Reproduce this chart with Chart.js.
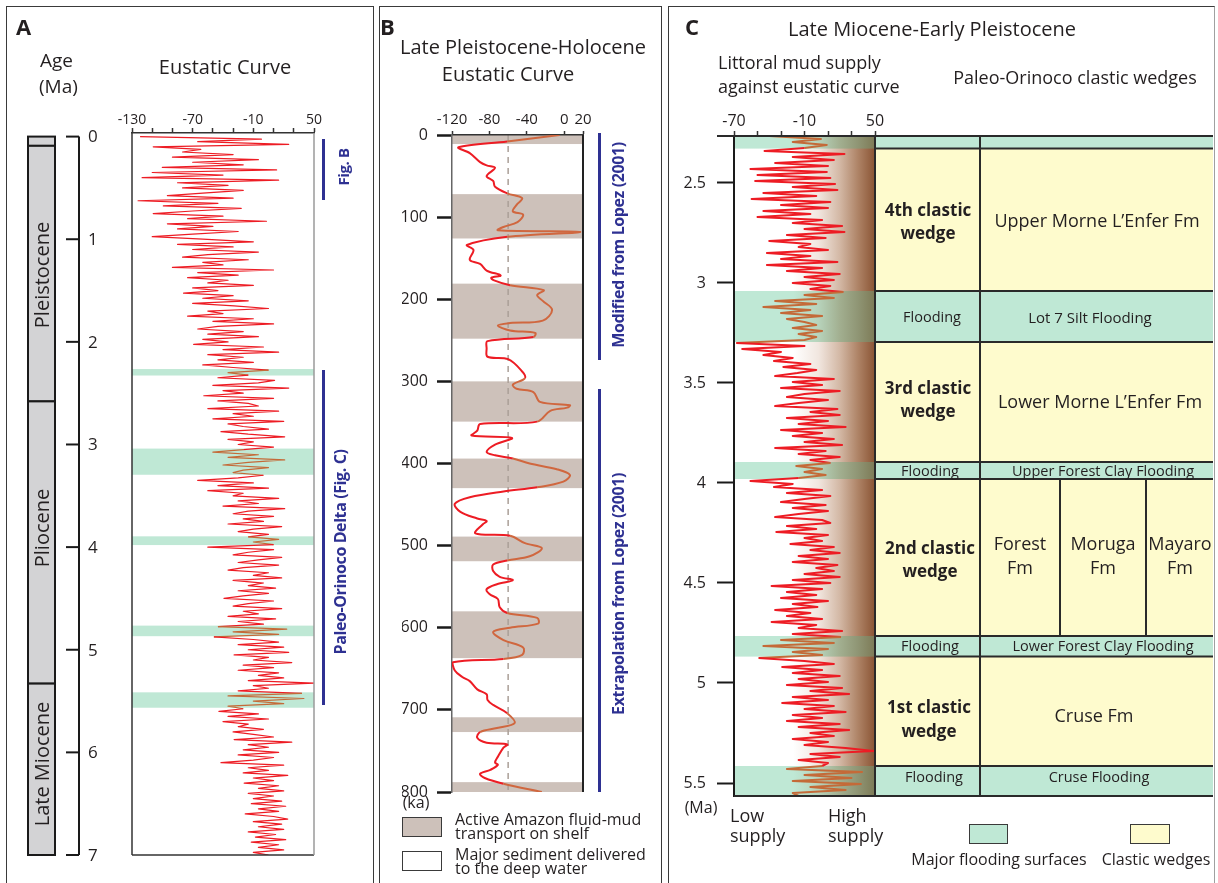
<!DOCTYPE html>
<html lang="en">
<head>
<meta charset="utf-8">
<title>Eustatic curves and Paleo-Orinoco clastic wedges</title>
<script src="https://cdn.jsdelivr.net/npm/chart.js@4.4.1/dist/chart.umd.min.js"></script>
<style>
  html, body { margin: 0; padding: 0; background: #fff; }
  #fig { position: relative; width: 1218px; height: 883px; overflow: hidden; font-family: 'Open Sans', sans-serif; color: #231f20; }
  #fig canvas { position: absolute; left: 0; top: 0; }
  .frame { position: absolute; box-sizing: border-box; border: 1.5px solid #3a3a3a; border-bottom: none; height: 900px; top: 6px; }
  .t { position: absolute; white-space: nowrap; line-height: 1; }
  .c { transform: translate(-50%, -50%); }
  .l { transform: translateY(-50%); }
  .v { transform: translate(-50%, -50%) rotate(-90deg); }
  .b { font-weight: 700; }
  .blue { color: #2e3192; font-weight: 700; letter-spacing: -0.4px; }
  .bar { position: absolute; width: 3px; background: #2e3192; }
  .key { position: absolute; box-sizing: border-box; border: 1.5px solid #3a3a3a; }
</style>
</head>
<body>
<div id="fig">
  <div class="frame" style="left:6px;width:368px"></div>
  <div class="frame" style="left:379px;width:283px"></div>
  <div class="frame" style="left:668px;width:547px;border-right-color:#a0a0a0"></div>

  <canvas id="chartA" width="1218" height="883"></canvas>
  <canvas id="chartB" width="1218" height="883"></canvas>
  <canvas id="chartC" width="1218" height="883"></canvas>

  <!-- Panel A -->
  <div class="t l b" style="left:16px;top:26px;font-size:22px">A</div>
  <div class="t l" style="left:40px;top:60px;font-size:19px">Age</div>
  <div class="t l" style="left:39px;top:86px;font-size:19px">(Ma)</div>
  <div class="t c" style="left:225px;top:67px;font-size:20px">Eustatic Curve</div>
  <div class="t v" style="left:42px;top:275px;font-size:20px">Pleistocene</div>
  <div class="t v" style="left:42px;top:528px;font-size:20px">Pliocene</div>
  <div class="t v" style="left:42px;top:764px;font-size:20px">Late Miocene</div>
  <div class="bar" style="left:322px;top:139px;height:61px"></div>
  <div class="t v blue" style="left:343px;top:167px;font-size:15px">Fig. B</div>
  <div class="bar" style="left:322px;top:370px;height:335px"></div>
  <div class="t v blue" style="left:340px;top:552px;font-size:16px">Paleo-Orinoco Delta (Fig. C)</div>

  <!-- Panel B -->
  <div class="t l b" style="left:380px;top:26px;font-size:22px">B</div>
  <div class="t c" style="left:523px;top:47px;font-size:20px">Late Pleistocene-Holocene</div>
  <div class="t c" style="left:508px;top:74px;font-size:20px">Eustatic Curve</div>
  <div class="t c" style="left:416px;top:802px;font-size:16px">(ka)</div>
  <div class="bar" style="left:598px;top:133px;height:227px"></div>
  <div class="t v blue" style="left:618px;top:245px;font-size:16px">Modified from Lopez (2001)</div>
  <div class="bar" style="left:598px;top:389px;height:403px"></div>
  <div class="t v blue" style="left:618px;top:594px;font-size:16px">Extrapolation from Lopez (2001)</div>
  <div class="key" style="left:402px;top:817px;width:40px;height:20px;background:#cdc1ba"></div>
  <div class="t l" style="left:455px;top:819px;font-size:16px">Active Amazon fluid-mud</div>
  <div class="t l" style="left:455px;top:833px;font-size:16px">transport on shelf</div>
  <div class="key" style="left:402px;top:851px;width:40px;height:20px;background:#fff"></div>
  <div class="t l" style="left:455px;top:854px;font-size:16px">Major sediment delivered</div>
  <div class="t l" style="left:455px;top:868px;font-size:16px">to the deep water</div>

  <!-- Panel C -->
  <div class="t l b" style="left:685px;top:26px;font-size:22px">C</div>
  <div class="t c" style="left:932px;top:29px;font-size:20px">Late Miocene-Early Pleistocene</div>
  <div class="t l" style="left:718px;top:62px;font-size:18px">Littoral mud supply</div>
  <div class="t l" style="left:718px;top:86px;font-size:18px">against eustatic curve</div>
  <div class="t c" style="left:1075px;top:77px;font-size:18px">Paleo-Orinoco clastic wedges</div>

  <div class="t c b" style="left:928px;top:209px;font-size:17px">4th clastic</div>
  <div class="t c b" style="left:928px;top:232px;font-size:17px">wedge</div>
  <div class="t c" style="left:1097px;top:220px;font-size:18px">Upper Morne L’Enfer Fm</div>
  <div class="t c" style="left:932px;top:317px;font-size:14.5px">Flooding</div>
  <div class="t c" style="left:1090px;top:317px;font-size:15px">Lot 7 Silt Flooding</div>
  <div class="t c b" style="left:928px;top:387px;font-size:17px">3rd clastic</div>
  <div class="t c b" style="left:928px;top:410px;font-size:17px">wedge</div>
  <div class="t c" style="left:1100px;top:401px;font-size:18px">Lower Morne L’Enfer Fm</div>
  <div class="t c" style="left:930px;top:471px;font-size:14.5px">Flooding</div>
  <div class="t c" style="left:1103px;top:471px;font-size:14.5px">Upper Forest Clay Flooding</div>
  <div class="t c b" style="left:930px;top:547px;font-size:17px">2nd clastic</div>
  <div class="t c b" style="left:930px;top:570px;font-size:17px">wedge</div>
  <div class="t c" style="left:1020px;top:543px;font-size:18px">Forest</div>
  <div class="t c" style="left:1020px;top:567px;font-size:18px">Fm</div>
  <div class="t c" style="left:1103px;top:543px;font-size:18px">Moruga</div>
  <div class="t c" style="left:1103px;top:567px;font-size:18px">Fm</div>
  <div class="t c" style="left:1180px;top:543px;font-size:18px">Mayaro</div>
  <div class="t c" style="left:1180px;top:567px;font-size:18px">Fm</div>
  <div class="t c" style="left:930px;top:646px;font-size:14.5px">Flooding</div>
  <div class="t c" style="left:1103px;top:646px;font-size:14.5px">Lower Forest Clay Flooding</div>
  <div class="t c b" style="left:929px;top:706px;font-size:17px">1st clastic</div>
  <div class="t c b" style="left:929px;top:730px;font-size:17px">wedge</div>
  <div class="t c" style="left:1094px;top:715px;font-size:18px">Cruse Fm</div>
  <div class="t c" style="left:934px;top:777px;font-size:14.5px">Flooding</div>
  <div class="t c" style="left:1099px;top:777px;font-size:14.5px">Cruse Flooding</div>

  <div class="t c" style="left:701px;top:807px;font-size:16px">(Ma)</div>
  <div class="t l" style="left:730px;top:815px;font-size:18px">Low</div>
  <div class="t l" style="left:730px;top:835px;font-size:18px">supply</div>
  <div class="t l" style="left:828px;top:815px;font-size:18px">High</div>
  <div class="t l" style="left:828px;top:835px;font-size:18px">supply</div>
  <div class="key" style="left:969px;top:824px;width:39px;height:20px;background:#bfe8d5"></div>
  <div class="key" style="left:1130px;top:824px;width:40px;height:20px;background:#fefbcd"></div>
  <div class="t c" style="left:999px;top:859px;font-size:16px">Major flooding surfaces</div>
  <div class="t c" style="left:1156px;top:859px;font-size:16px">Clastic wedges</div>
</div>

<script>
// ---------- Data ----------
// Panel A: eustatic sea level (m) sampled every 0.025 Ma from 0 to 7 Ma
const ageStepA = 0.025;
const sealevelA = [
  -122, -2, -65, 25, -109, -62, -80, -30, -90, -5, -70, -20, -100, 13, -110, -40, -120, 15, -85, -35,
  -80, -20, -60, -95, -30, -124, -45, -99, -22, -70, -109, -40, -75, 3, -95, -50, -85, -25, -70, -110,
  -60, -10, -85, -30, -70, -5, -55, -80, -15, -60, -40, -90, 10, -65, -25, -75, -35, -55, -10, -70,
  -45, -79, -30, -60, -15, -70, -29, 5, -55, -40, -75, -10, -50, 10, -45, -65, -20, -55, -5, -60,
  -35, -69, 0, -40, 15, -55, -20, -45, -10, -60, -30, 5, -35, -15, -45, 11, -5, -50, 25, -40,
  -20, -59, 10, -45, -15, -5, -55, 15, -30, -10, -50, 20, -35, -20, 5, -42, -15, 21, -35, -10,
  -25, 10, -20, -50, -5, -35, 21, -15, -40, 5, -20, -30, 0, -25, -65, -10, -45, 5, -55, -20,
  -30, 15, -25, -5, -40, 21, -15, -30, 10, -20, 0, -35, 18, -10, -25, 5, -15, 15, -10, 10,
  -55, 10, -15, -30, 18, -5, -25, 15, -20, -35, 5, -10, 18, -30, 0, -15, 12, -25, 5, -20,
  -39, 10, -15, -30, 18, -20, -5, -35, 12, -25, 0, -45, 23, -30, 15, -49, -10, 15, -25, 20,
  -15, 25, -29, 5, -10, 28, -20, 10, -25, 15, -5, 20, -15, 50, -10, 5, -25, 38, -35, 40,
  -10, 20, -35, -20, -44, -5, -35, 5, -40, -15, -25, 0, -30, -10, 10, -29, 28, -15, 5, -20,
  15, -25, 10, -10, -42, 20, -15, 5, -20, 24, -10, 10, -19, 15, -5, 20, -15, 10, -10, 18,
  -12, 22, -5, 15, -18, 10, 24, -10, 18, -5, 20, -15, 12, -8, 22, -12, 15, -5, 20, -10,
  5
];
const xTicksA = [-130, -110, -90, -70, -50, -30, -10, 10, 30, 50];
const xLabelsA = [-130, -70, -10, 50];
const ageTicksA = [0, 1, 2, 3, 4, 5, 6, 7];
const epochBounds = [0, 0.09, 2.58, 5.33, 7];

// Major flooding surfaces (Ma)
const floodBands = [[2.265, 2.328], [3.04, 3.295], [3.895, 3.98], [4.765, 4.868], [5.415, 5.565]];

// Panel B: Late Pleistocene-Holocene curve (ka, m)
const agesB = [
  0, 8, 15, 22, 33, 37, 40, 50, 56, 63,
  71, 77, 85, 93, 97, 106, 112, 116, 118, 124,
  134, 140, 152, 157, 165, 171, 174, 177, 183, 189,
  195, 202, 213, 226, 229, 232, 238, 241, 246, 251,
  260, 270, 273, 288, 296, 304, 309, 313, 325, 329,
  332, 336, 349, 352, 360, 366, 369, 377, 386, 390,
  394, 400, 407, 414, 422, 429, 434, 441, 449, 459,
  467, 470, 474, 485, 488, 497, 503, 513, 518, 523,
  531, 538, 542, 547, 553, 559, 565, 575, 582, 588,
  595, 600, 605, 615, 624, 633, 638, 642, 652, 660,
  665, 675, 681, 688, 694, 704, 716, 722, 727, 734,
  740, 742, 746, 757, 764, 767, 773, 778, 783, 790,
  800
];
const levelsB = [
  -5, -61, -113, -101, -90, -83, -74, -83, -76, -74,
  -61, -45, -51, -55, -44, -50, -65, -71, 17, -61,
  -104, -97, -101, -90, -83, -68, -78, -75, -58, -22,
  -29, -23, -13, -23, -58, -71, -58, -31, -33, -82,
  -83, -82, -60, -45, -42, -55, -51, -33, -26, 6,
  3, -15, -29, -90, -93, -99, -56, -74, -83, -74,
  -55, -37, -8, 6, -1, -29, -65, -101, -117, -111,
  -93, -83, -87, -95, -58, -42, -24, -37, -61, -76,
  -76, -69, -55, -72, -83, -80, -71, -69, -61, -29,
  -28, -58, -76, -65, -44, -45, -65, -119, -117, -109,
  -101, -93, -83, -82, -76, -61, -53, -72, -90, -93,
  -83, -61, -65, -71, -74, -71, -79, -90, -85, -65,
  -24
];
const amazonBands = [[0, 11], [72, 126], [181, 248], [300, 349], [394, 430], [489, 519], [580, 637], [709, 727], [788, 800]];
const referenceLevelB = -60;
const xTicksB = [-120, -80, -40, 0, 20];
const yTicksB = [0, 100, 200, 300, 400, 500, 600, 700, 800];

// Panel C: sea level (m) every 0.015 Ma from 2.265 to 5.565 Ma
const ageStartC = 2.265;
const ageStepC = 0.015;
const sealevelC = [
  -40, 4, -20, 9, -10, -44, 24, -20, 15, -35, 10, -56, 9, -50, 12, -52, 16, -20, 18, -45,
  0, -55, 12, -30, 10, -45, -5, -50, 5, -20, 22, -10, 24, -25, 8, -40, -5, -15, 10, -42,
  -5, -30, 18, -42, 5, -25, 20, -10, 15, -20, 12, -5, 23, -10, 15, -35, 0, -45, -5, -30,
  5, -25, -10, 0, -20, 5, -15, 0, -10, -68, -10, -63, -30, -45, -20, -36, -5, -28, 0, -16,
  -35, 15, -20, 5, -30, 20, -10, -25, 10, -15, -35, 18, -5, 20, -25, 10, -15, 25, -30, 5,
  -20, 15, -10, 22, -35, 8, -15, 20, -5, 12, -17, 5, -10, 8, -15, -56, -20, -36, 5, -25,
  12, -10, -30, 8, -20, 10, -15, -35, 5, 12, -25, 0, -34, 10, -10, 5, -22, 15, -5, 20,
  -15, 10, -20, 18, 0, 15, -10, 20, -20, 12, -38, 5, -25, 0, -30, 10, -20, 1, -35, -5,
  -25, 5, -38, 0, -15, 22, -20, 21, -30, 15, -45, 10, -20, 5, -49, -10, 15, -29, 5, -20,
  20, -15, 10, -25, 22, -5, 28, -20, 10, -29, 15, -10, 25, -20, 5, -25, 20, -15, 28, -5,
  15, -20, 10, -10, 25, 49, -5, 20, -15, 10, 5, -25, 39, -10, 30, -20, 38, -5, 25, -20,
  -15
];
const xTicksC = [-70, -50, -30, -10, 10, 30, 50];
const xLabelsC = [-70, -10, 50];
const yTicksC = [2.5, 3, 3.5, 4, 4.5, 5, 5.5];

// ---------- Styling ----------
const FONT = "'Open Sans', sans-serif";
const INK = '#231f20';
const RED = '#ed1c24';
const ORANGE = '#c46a38';
const ORANGE_B = '#d0673f';
const MINT = '#bfe8d5';
const MUD = '#cdc1ba';
const YELLOW = '#fefbcd';
const TABLE_RIGHT = 1213;
const supplyStops = [[0, '#ffffff'], [0.42, '#ffffff'], [0.6, '#f1e6df'], [0.75, '#d3b8a5'], [0.88, '#ae8366'], [1, '#8a5434']];
const floodStops = [[0, MINT], [0.42, MINT], [0.6, '#b7d3bb'], [0.75, '#a2af90'], [0.88, '#8f9574'], [1, '#7d7a56']];

Chart.defaults.font.family = FONT;
Chart.defaults.color = INK;

function seg(ctx, x1, y1, x2, y2, color, width) {
  ctx.beginPath();
  ctx.moveTo(x1, y1);
  ctx.lineTo(x2, y2);
  ctx.strokeStyle = color;
  ctx.lineWidth = width;
  ctx.stroke();
}
function inside(bands, v) {
  return bands.some(([a, b]) => v >= a && v <= b);
}
function curve(points, bands, width, inColor) {
  return {
    data: points,
    showLine: true,
    pointRadius: 0,
    borderWidth: width,
    borderColor: RED,
    borderJoinStyle: 'round',
    segment: {
      borderColor: c => inside(bands, (c.p0.parsed.y + c.p1.parsed.y) / 2) ? inColor : RED
    }
  };
}
function fixedTicks(list) {
  return scale => { scale.ticks = list.map(v => ({ value: v })); };
}
function baseOptions(padding, scales) {
  return {
    responsive: false,
    animation: false,
    devicePixelRatio: 1,
    layout: { padding },
    plugins: { legend: { display: false }, tooltip: { enabled: false } },
    events: [],
    scales
  };
}

// ---------- Panel A ----------
const panelA = {
  id: 'panelA',
  beforeDraw(chart) {
    const { ctx, chartArea: a, scales: { y } } = chart;
    ctx.save();
    ctx.fillStyle = MINT;
    floodBands.forEach(([t, b]) => {
      const y0 = y.getPixelForValue(t), y1 = y.getPixelForValue(b);
      ctx.fillRect(a.left, y0, a.right - a.left, y1 - y0);
    });
    ctx.restore();
  },
  afterDraw(chart) {
    const { ctx, chartArea: a, scales: { y } } = chart;
    ctx.save();
    seg(ctx, a.left, a.top, a.left, a.bottom, '#333', 1.5);
    seg(ctx, a.left, a.bottom, a.right, a.bottom, '#333', 1.5);
    seg(ctx, a.right, a.top, a.right, a.bottom, '#9a9a9a', 1.5);
    // geological time column
    for (let i = 0; i < epochBounds.length - 1; i++) {
      const y0 = y.getPixelForValue(epochBounds[i]), y1 = y.getPixelForValue(epochBounds[i + 1]);
      ctx.fillStyle = '#d3d3d5';
      ctx.fillRect(28, y0, 27, y1 - y0);
      ctx.strokeStyle = '#1a1a1a';
      ctx.lineWidth = 2;
      ctx.strokeRect(28, y0, 27, y1 - y0);
    }
    // age axis
    const ax = 79;
    seg(ctx, ax, y.getPixelForValue(ageTicksA[0]), ax, y.getPixelForValue(ageTicksA[ageTicksA.length - 1]), '#1a1a1a', 2);
    ctx.font = "17px " + FONT;
    ctx.fillStyle = INK;
    ctx.textAlign = 'left';
    ctx.textBaseline = 'middle';
    ageTicksA.forEach(v => {
      const p = y.getPixelForValue(v);
      seg(ctx, 66, p, ax, p, '#1a1a1a', 2);
      ctx.fillText(String(v), 88, p + 1);
    });
    ctx.restore();
  }
};

new Chart(document.getElementById('chartA'), {
  type: 'scatter',
  data: { datasets: [curve(sealevelA.map((v, i) => ({ x: v, y: i * ageStepA })), floodBands, 1.2, ORANGE)] },
  options: baseOptions({ left: 132, right: 904, top: 93, bottom: 28 }, {
    x: {
      type: 'linear', position: 'top', min: -130, max: 50,
      afterBuildTicks: fixedTicks(xTicksA),
      afterFit: s => { s.height = 40; },
      grid: { drawOnChartArea: false, tickLength: 5, tickColor: '#333', tickWidth: 1.5 },
      border: { display: true, color: '#333', width: 1.5 },
      ticks: { autoSkip: false, maxRotation: 0, padding: 0, font: { size: 14 },
               callback: v => xLabelsA.includes(v) ? String(v) : '' }
    },
    y: { type: 'linear', reverse: true, min: -0.035, max: 7, display: false }
  }),
  plugins: [panelA]
});

// ---------- Panel B ----------
const panelB = {
  id: 'panelB',
  beforeDraw(chart) {
    const { ctx, chartArea: a, scales: { x, y } } = chart;
    ctx.save();
    ctx.fillStyle = MUD;
    amazonBands.forEach(([t, b]) => {
      const y0 = y.getPixelForValue(t), y1 = y.getPixelForValue(b);
      ctx.fillRect(a.left, y0, a.right - a.left, y1 - y0);
    });
    const px = x.getPixelForValue(referenceLevelB);
    ctx.setLineDash([6, 5]);
    seg(ctx, px, a.top, px, a.bottom, '#ab9f98', 1.5);
    ctx.restore();
  },
  afterDraw(chart) {
    const { ctx, chartArea: a } = chart;
    ctx.save();
    seg(ctx, a.right, a.top, a.right, a.bottom, '#222', 2);
    ctx.restore();
  }
};

new Chart(document.getElementById('chartB'), {
  type: 'scatter',
  data: { datasets: [Object.assign(curve(agesB.map((a, i) => ({ x: levelsB[i], y: a })), amazonBands, 2, ORANGE_B), { tension: 0.35 })] },
  options: baseOptions({ left: 402, right: 635, top: 95, bottom: 91 }, {
    x: {
      type: 'linear', position: 'top', min: -120, max: 20,
      afterBuildTicks: fixedTicks(xTicksB),
      afterFit: s => { s.height = 40; },
      grid: { drawOnChartArea: false, tickLength: 4, tickColor: '#333', tickWidth: 1.5 },
      border: { display: true, color: '#333', width: 1.5 },
      ticks: { autoSkip: false, maxRotation: 0, padding: 2, font: { size: 15 } }
    },
    y: {
      type: 'linear', position: 'left', reverse: true, min: 0, max: 800,
      afterBuildTicks: fixedTicks(yTicksB),
      afterFit: s => { s.width = 50; },
      grid: { drawOnChartArea: false, tickLength: 15, tickColor: '#1a1a1a', tickWidth: 2.5 },
      border: { display: true, color: '#666', width: 1.5 },
      ticks: { autoSkip: false, padding: 9, font: { size: 16 } }
    }
  }),
  plugins: [panelB]
});

// ---------- Panel C ----------
const panelC = {
  id: 'panelC',
  beforeDraw(chart) {
    const { ctx, chartArea: a, scales: { y } } = chart;
    const w = a.right - a.left, tl = a.right, tr = TABLE_RIGHT;
    ctx.save();
    const supply = ctx.createLinearGradient(a.left, 0, a.right, 0);
    supplyStops.forEach(([o, c]) => supply.addColorStop(o, c));
    ctx.fillStyle = supply;
    ctx.fillRect(a.left, a.top, w, a.bottom - a.top);
    const flood = ctx.createLinearGradient(a.left, 0, a.right, 0);
    floodStops.forEach(([o, c]) => flood.addColorStop(o, c));
    ctx.fillStyle = YELLOW;
    ctx.fillRect(tl, a.top, tr - tl, a.bottom - a.top);
    floodBands.forEach(([t, b]) => {
      const y0 = y.getPixelForValue(t), y1 = y.getPixelForValue(b);
      ctx.fillStyle = flood;
      ctx.fillRect(a.left, y0, w, y1 - y0);
      ctx.fillStyle = MINT;
      ctx.fillRect(tl, y0, tr - tl, y1 - y0);
    });
    ctx.restore();
  },
  afterDraw(chart) {
    const { ctx, chartArea: a, scales: { y } } = chart;
    const tl = a.right, tr = TABLE_RIGHT, ink = '#2a2a2a';
    ctx.save();
    seg(ctx, 717, a.top, tr, a.top, ink, 2);
    seg(ctx, a.left, a.bottom, tr, a.bottom, ink, 2);
    seg(ctx, tl, a.top, tl, a.bottom, ink, 2);
    seg(ctx, 980, a.top, 980, a.bottom, ink, 2);
    floodBands.forEach(band => band.forEach(v => {
      const p = y.getPixelForValue(v);
      if (p > a.top + 1 && p < a.bottom - 1) seg(ctx, tl, p, tr, p, ink, 2);
    }));
    const r0 = y.getPixelForValue(floodBands[2][1]), r1 = y.getPixelForValue(floodBands[3][0]);
    seg(ctx, 1060, r0, 1060, r1, ink, 2);
    seg(ctx, 1146, r0, 1146, r1, ink, 2);
    ctx.restore();
  }
};

new Chart(document.getElementById('chartC'), {
  type: 'scatter',
  data: { datasets: [curve(sealevelC.map((v, i) => ({ x: v, y: ageStartC + i * ageStepC })), floodBands, 2, ORANGE)] },
  options: baseOptions({ left: 665, right: 343, top: 96, bottom: 87 }, {
    x: {
      type: 'linear', position: 'top', min: -70, max: 50,
      afterBuildTicks: fixedTicks(xTicksC),
      afterFit: s => { s.height = 40; },
      grid: { drawOnChartArea: false, tickLength: 5, tickColor: '#333', tickWidth: 1.5 },
      border: { display: true, color: '#2a2a2a', width: 2 },
      ticks: { autoSkip: false, maxRotation: 0, padding: 0, font: { size: 16 },
               callback: v => xLabelsC.includes(v) ? String(v) : '' }
    },
    y: {
      type: 'linear', position: 'left', reverse: true, min: 2.265, max: 5.565,
      afterBuildTicks: fixedTicks(yTicksC),
      afterFit: s => { s.width = 69; },
      grid: { drawOnChartArea: false, tickLength: 17, tickColor: '#1a1a1a', tickWidth: 2 },
      border: { display: true, color: '#1a1a1a', width: 2 },
      ticks: { autoSkip: false, padding: 11, font: { size: 16 }, callback: v => String(v) }
    }
  }),
  plugins: [panelC]
});
</script>
</body>
</html>
